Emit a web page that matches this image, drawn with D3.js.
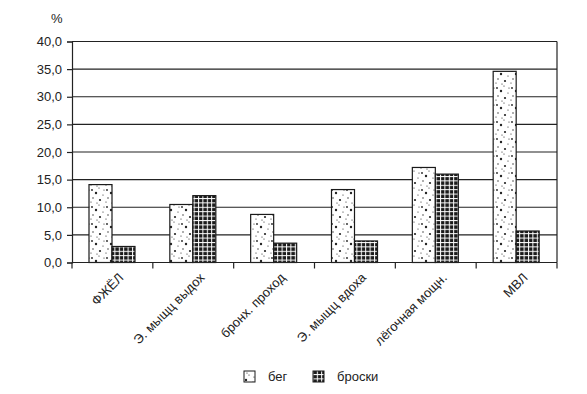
<!DOCTYPE html>
<html>
<head>
<meta charset="UTF-8">
<script src="https://cdn.jsdelivr.net/npm/d3@7"></script>
<style>
  body { margin: 0; background: #fff; }
  text { font-family: "Liberation Sans", Arial, sans-serif; fill: #222; }
</style>
</head>
<body>
<svg id="chart" width="587" height="394"></svg>
<script>
// categories and series
var categories = ["ФЖЁЛ", "Э. мыщц выдох", "бронх. проход", "Э. мыщц вдоха", "лёгочная мощн.", "МВЛ"];
var runValues = [14.1, 10.5, 8.7, 13.2, 17.2, 34.6];
var throwValues = [2.9, 12.1, 3.5, 3.9, 16.0, 5.7];
var seriesNames = ["бег", "броски"];
var yTicks = [0, 5, 10, 15, 20, 25, 30, 35, 40];

var svg = d3.select("#chart");
// plot area edges (note: "top" is reserved on window)
var plotLeft = 72, plotRight = 557, plotTop = 41.5, plotBottom = 262.5;

var defs = svg.append("defs");

// sparse dots for "бег"
var dots = defs.append("pattern").attr("id", "dots")
    .attr("patternUnits", "userSpaceOnUse").attr("width", 15).attr("height", 17);
dots.append("rect").attr("width", 15).attr("height", 17).attr("fill", "#fff");
[[2, 3, 0.9], [9, 1, 0.6], [6, 6, 1.2], [13, 8, 0.6], [3, 11, 0.7],
 [10, 13, 1.1], [7, 16, 0.6], [14, 3, 0.6], [1, 15, 0.6]].forEach(function(d) {
    dots.append("circle").attr("cx", d[0]).attr("cy", d[1]).attr("r", d[2]).attr("fill", "#222");
});

// grid for "броски"
var grid = defs.append("pattern").attr("id", "grid")
    .attr("patternUnits", "userSpaceOnUse").attr("width", 4.4).attr("height", 4.4);
grid.append("rect").attr("width", 4.4).attr("height", 4.4).attr("fill", "#1a1a1a");
grid.append("line").attr("x1", 0).attr("y1", 0.5).attr("x2", 4.4).attr("y2", 0.5)
    .attr("stroke", "#fff").attr("stroke-width", 1);
grid.append("line").attr("x1", 0.5).attr("y1", 0).attr("x2", 0.5).attr("y2", 4.4)
    .attr("stroke", "#fff").attr("stroke-width", 1);

var x = d3.scaleBand().domain(categories).range([plotLeft, plotRight]).paddingInner(0).paddingOuter(0);
var sub = d3.scaleBand().domain(seriesNames).range([17, 63]);
var y = d3.scaleLinear().domain([0, 40]).range([plotBottom, plotTop]);

// gridlines
svg.append("g").selectAll("line").data(yTicks.slice(1)).enter().append("line")
    .attr("x1", plotLeft).attr("x2", plotRight)
    .attr("y1", function(d) { return y(d); }).attr("y2", function(d) { return y(d); })
    .attr("stroke", "#222").attr("stroke-width", 1.2);

// right border
svg.append("line").attr("x1", plotRight).attr("x2", plotRight).attr("y1", plotTop).attr("y2", plotBottom)
    .attr("stroke", "#222").attr("stroke-width", 1.2);

// bars
var series = [
    { name: "бег", values: runValues, fill: "url(#dots)" },
    { name: "броски", values: throwValues, fill: "url(#grid)" }
];
series.forEach(function(s) {
    svg.append("g").selectAll("rect").data(s.values).enter().append("rect")
        .attr("x", function(d, i) { return x(categories[i]) + sub(s.name); })
        .attr("width", sub.bandwidth())
        .attr("y", function(d) { return y(d); })
        .attr("height", function(d) { return y(0) - y(d); })
        .attr("fill", s.fill)
        .attr("stroke", "#1a1a1a").attr("stroke-width", 1.2);
});

// y axis
var yAxis = svg.append("g").attr("transform", "translate(" + plotLeft + ",0)")
    .call(d3.axisLeft(y).tickValues(yTicks).tickSize(5).tickPadding(5)
        .tickFormat(function(d) { return d3.format(".1f")(d).replace(".", ","); }));
yAxis.select(".domain").attr("stroke", "#222").attr("stroke-width", 1.2);
yAxis.selectAll(".tick line").attr("stroke", "#222").attr("stroke-width", 1.2);
yAxis.selectAll(".tick text").attr("font-size", 13).attr("fill", "#222")
    .attr("font-family", "\"Liberation Sans\", Arial, sans-serif");

// x axis
var xAxisG = svg.append("g").attr("transform", "translate(0," + plotBottom + ")");
xAxisG.append("line").attr("x1", plotLeft).attr("x2", plotRight).attr("stroke", "#222").attr("stroke-width", 1.2);
xAxisG.selectAll(".tk").data(d3.range(categories.length + 1)).enter().append("line")
    .attr("x1", function(i) { return plotLeft + i * x.step(); })
    .attr("x2", function(i) { return plotLeft + i * x.step(); })
    .attr("y1", 0).attr("y2", 6)
    .attr("stroke", "#222").attr("stroke-width", 1.2);

svg.append("g").selectAll("text").data(categories).enter().append("text")
    .attr("transform", function(d) {
        return "translate(" + (x(d) + x.bandwidth() / 2 + 12) + "," + (plotBottom + 16) + ") rotate(-45)";
    })
    .attr("text-anchor", "end").attr("font-size", 13)
    .text(function(d) { return d; });

// unit label
svg.append("text").attr("x", 51).attr("y", 23).attr("font-size", 13).text("%");

// legend
var legend = svg.append("g");
var legendX = [244, 313];
series.forEach(function(s, i) {
    legend.append("rect").attr("x", legendX[i]).attr("y", 371).attr("width", 11).attr("height", 11)
        .attr("fill", s.fill).attr("stroke", "#1a1a1a").attr("stroke-width", 1);
    legend.append("text").attr("x", legendX[i] + 24).attr("y", 381)
        .attr("font-size", 13).text(s.name);
});
</script>
</body>
</html>
